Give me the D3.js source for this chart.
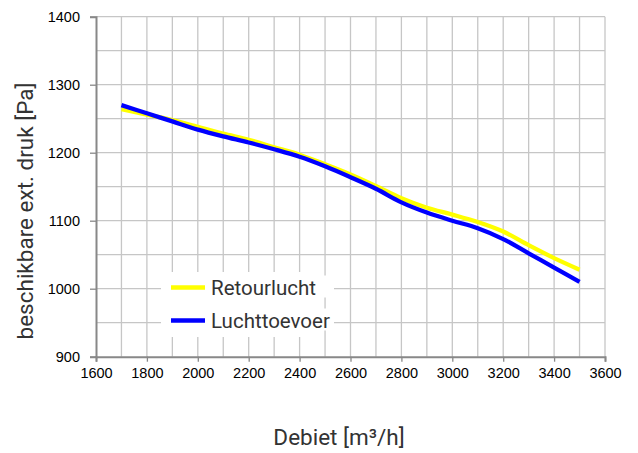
<!DOCTYPE html>
<html><head><meta charset="utf-8">
<script src="https://cdn.jsdelivr.net/npm/d3@7"></script>
<style>html,body{margin:0;padding:0;background:#fff;}svg{display:block;}</style>
</head><body>
<svg id="chart" width="638" height="453"></svg>
<script>
const debiet = [1700,1800,1900,2000,2100,2200,2300,2400,2500,2600,2700,2800,2900,3000,3100,3200,3300,3400,3500];
const retourlucht = [1264,1256,1248,1238,1228,1219,1208,1197,1183,1168,1151,1133,1119,1109,1098,1084,1064,1045,1028];
const luchttoevoer = [1270,1258,1246,1234,1224,1215,1205,1194,1180,1164,1147,1127,1112,1100,1089,1073,1052,1031,1010];
const seriesNames = ["Retourlucht","Luchttoevoer"];
const seriesColors = ["#ffff00","#0000ff"];
const xTicks = [1600,1800,2000,2200,2400,2600,2800,3000,3200,3400,3600];
const yTicks = [900,1000,1100,1200,1300,1400];
const xTitle = "Debiet [m³/h]";
const yTitle = "beschikbare ext. druk [Pa]";

const svg = d3.select("#chart");
const L = 96, R = 605, T = 16.7, B = 356.7;
const x = d3.scaleLinear().domain([1600,3600]).range([L,R]);
const y = d3.scaleLinear().domain([900,1400]).range([B,T]);

const grid = svg.append("g");
grid.selectAll("line.v").data(d3.range(1700,3601,100)).enter().append("line")
  .attr("x1",d=>x(d)).attr("x2",d=>x(d)).attr("y1",T).attr("y2",B)
  .attr("stroke","#c6c6c6").attr("stroke-width",1.3);
grid.selectAll("line.h").data(d3.range(950,1401,50)).enter().append("line")
  .attr("x1",L).attr("x2",R).attr("y1",d=>y(d)).attr("y2",d=>y(d))
  .attr("stroke","#c6c6c6").attr("stroke-width",1.3);

const tickFont = "'Liberation Sans', Arial, sans-serif";
const xAxis = d3.axisBottom(x).tickValues(xTicks).tickSize(5).tickPadding(6).tickFormat(d3.format("d"));
const gx = svg.append("g").attr("transform",`translate(0,${B})`).call(xAxis);
const yAxis = d3.axisLeft(y).tickValues(yTicks).tickSize(6).tickPadding(10).tickFormat(d3.format("d"));
const gy = svg.append("g").attr("transform",`translate(${L},0)`).call(yAxis);
[gx,gy].forEach(g=>{
  g.select(".domain").attr("stroke","#888").attr("stroke-width",2);
  g.selectAll(".tick line").attr("stroke","#888").attr("stroke-width",1.3);
  g.selectAll(".tick text").attr("fill","#000").style("font-family",tickFont).style("font-size","14.5px");
});

const line = d3.line().x((d,i)=>x(debiet[i])).y(d=>y(d)).curve(d3.curveCatmullRom.alpha(0.5));
const allSeries = [retourlucht, luchttoevoer];
svg.append("g").selectAll("path").data(allSeries).enter().append("path")
  .attr("d",d=>line(d)).attr("fill","none")
  .attr("stroke",(d,i)=>seriesColors[i]).attr("stroke-width",4.3).attr("stroke-linecap","butt");

// legend
const lg = svg.append("g");
lg.append("rect").attr("x",161).attr("y",272).attr("width",161).attr("height",65).attr("fill","#fff");
const titleFont = "Roboto, 'Noto Sans', sans-serif";
seriesNames.forEach((n,i)=>{
  const yy = 287.5 + i*33;
  lg.append("rect").attr("x",208).attr("y",yy-12).attr("width",126).attr("height",22).attr("fill","#fff");
  lg.append("line").attr("x1",171).attr("x2",205).attr("y1",yy).attr("y2",yy)
    .attr("stroke",seriesColors[i]).attr("stroke-width",4.3);
  lg.append("text").attr("x",211).attr("y",yy).attr("dy","0.36em").text(n)
    .style("font-family",titleFont).style("font-size","20.5px").attr("fill","#333");
});

svg.append("text").attr("x",339).attr("y",445).attr("text-anchor","middle").text(xTitle)
  .style("font-family",titleFont).style("font-size","22.5px").attr("fill","#333");
svg.append("text").attr("transform","translate(33,211) rotate(-90)").attr("text-anchor","middle").text(yTitle)
  .style("font-family",titleFont).style("font-size","22.5px").attr("fill","#333");
</script>
</body></html>
